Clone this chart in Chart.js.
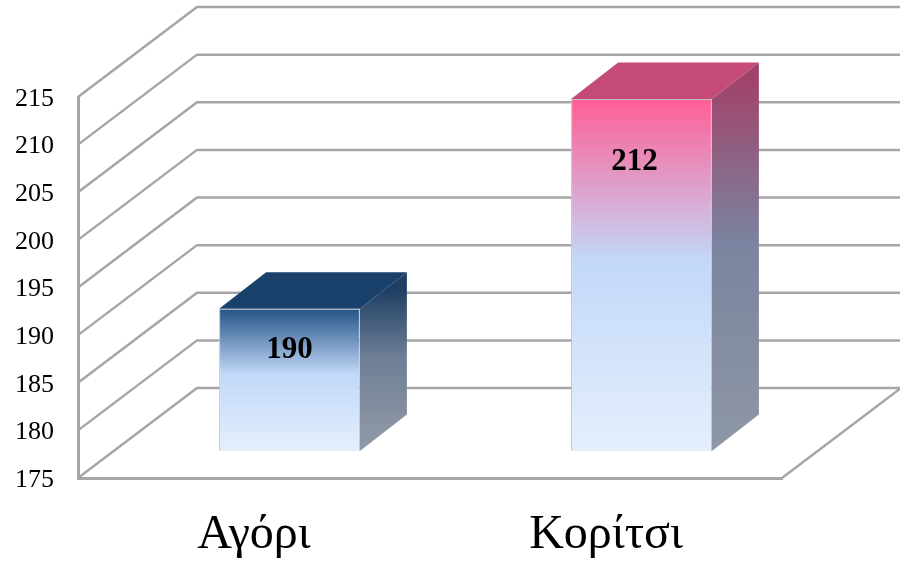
<!DOCTYPE html>
<html>
<head>
<meta charset="utf-8">
<style>
    body { margin: 0; background: #fff; }
    canvas { display: block; }
</style>
<script src="https://cdn.jsdelivr.net/npm/chart.js@4"></script>
</head>
<body>
<canvas id="GenderChart" width="900" height="561"></canvas>
<script>
const categories = ['Αγόρι', 'Κορίτσι'];
const counts = [190, 212];
const axisMin = 175;
const axisMax = 215;
const axisStep = 5;

const frontTopColors = ['#245486', '#ff5e96'];
const sideTopColors = ['#203f63', '#a0446a'];
const sideMidColors = ['#6d7e96', '#7b83a0'];
const roofColors = ['#1a406c', '#c44a78'];

const lineColor = '#a6a6a6';
const wallX = 119, wallY = -90;     // depth of the back wall
const barShiftX = 35.5, barShiftY = -26.5;  // bars stand a bit inside the floor
const barDepthX = 47, barDepthY = -36.5;
const labelDrop = [41.5, 62.5];
const labelShift = [0, -7];

const wallPlugin = {
    id: 'wall',
    beforeDatasetsDraw(chart) {
        const { ctx, chartArea, scales } = chart;
        ctx.save();
        ctx.strokeStyle = lineColor;
        ctx.lineWidth = 2.5;
        ctx.lineJoin = 'miter';
        scales.y.ticks.forEach((t) => {
            const y = scales.y.getPixelForValue(t.value);
            ctx.beginPath();
            ctx.moveTo(chartArea.left, y);
            ctx.lineTo(chartArea.left + wallX, y + wallY);
            ctx.lineTo(chartArea.right + wallX, y + wallY);
            ctx.stroke();
        });
        ctx.beginPath();
        ctx.moveTo(chartArea.right, chartArea.bottom);
        ctx.lineTo(chartArea.right + wallX, chartArea.bottom + wallY);
        ctx.stroke();
        ctx.restore();
    }
};

const boxPlugin = {
    id: 'box',
    beforeDatasetDraw(chart, args) {
        const { ctx } = chart;
        const meta = chart.getDatasetMeta(args.index);
        meta.data.forEach((bar, i) => {
            const left = bar.x - bar.width / 2 + barShiftX;
            const right = bar.x + bar.width / 2 + barShiftX;
            const top = bar.y + barShiftY;
            const base = bar.base + barShiftY;

            const side = ctx.createLinearGradient(0, top + barDepthY / 2, 0, base + barDepthY / 2);
            side.addColorStop(0, sideTopColors[i]);
            side.addColorStop(0.46, sideMidColors[i]);
            side.addColorStop(1, '#8d96a4');
            ctx.fillStyle = side;
            ctx.beginPath();
            ctx.moveTo(right, top);
            ctx.lineTo(right + barDepthX, top + barDepthY);
            ctx.lineTo(right + barDepthX, base + barDepthY);
            ctx.lineTo(right, base);
            ctx.closePath();
            ctx.fill();

            ctx.fillStyle = roofColors[i];
            ctx.beginPath();
            ctx.moveTo(left, top);
            ctx.lineTo(left + barDepthX, top + barDepthY);
            ctx.lineTo(right + barDepthX, top + barDepthY);
            ctx.lineTo(right, top);
            ctx.closePath();
            ctx.fill();
        });
        ctx.save();
        ctx.translate(barShiftX, barShiftY);
    },
    afterDatasetDraw(chart, args) {
        const { ctx } = chart;
        ctx.restore();
        const meta = chart.getDatasetMeta(args.index);
        ctx.save();
        ctx.fillStyle = '#000';
        ctx.font = 'bold 31px "Liberation Serif"';
        ctx.textAlign = 'center';
        ctx.textBaseline = 'middle';
        meta.data.forEach((bar, i) => {
            ctx.fillText(counts[i], bar.x + barShiftX + labelShift[i], bar.y + barShiftY + labelDrop[i]);
        });
        ctx.restore();
    }
};

function FrontFill(context) {
    const chart = context.chart;
    if (!chart.chartArea || context.parsed === undefined) return frontTopColors[0];
    const y = chart.scales.y;
    const g = chart.ctx.createLinearGradient(0, y.getPixelForValue(context.parsed.y), 0, y.getPixelForValue(axisMin));
    g.addColorStop(0, frontTopColors[context.dataIndex]);
    g.addColorStop(0.46, '#c2d8f8');
    g.addColorStop(1, '#e5effc');
    return g;
}

new Chart(document.getElementById('GenderChart'), {
    type: 'bar',
    data: {
        labels: categories,
        datasets: [
            {
                data: counts,
                base: axisMin,
                backgroundColor: FrontFill,
                borderColor: '#bfc3c9',
                borderWidth: 1,
                barPercentage: 1,
                categoryPercentage: 0.4,
                clip: false
            }
        ]
    },
    options: {
        responsive: false,
        animation: false,
        layout: { padding: { top: 97, right: 118, left: 0, bottom: 0 } },
        plugins: {
            legend: { display: false },
            tooltip: { enabled: false }
        },
        scales: {
            x: {
                grid: { display: false },
                border: { color: lineColor, width: 3 },
                ticks: {
                    color: '#000',
                    padding: 21,
                    maxRotation: 0,
                    font: { family: 'Liberation Serif', size: 48 }
                },
                afterFit(scale) { scale.height = 83; }
            },
            y: {
                min: axisMin,
                max: axisMax,
                grid: { drawOnChartArea: false, drawTicks: false },
                border: { color: lineColor, width: 3 },
                ticks: {
                    stepSize: axisStep,
                    color: '#000',
                    padding: 24,
                    labelOffset: 2,
                    font: { family: 'Liberation Serif', size: 26 }
                },
                afterFit(scale) { scale.width = 78; }
            }
        }
    },
    plugins: [wallPlugin, boxPlugin]
});
</script>
</body>
</html>
